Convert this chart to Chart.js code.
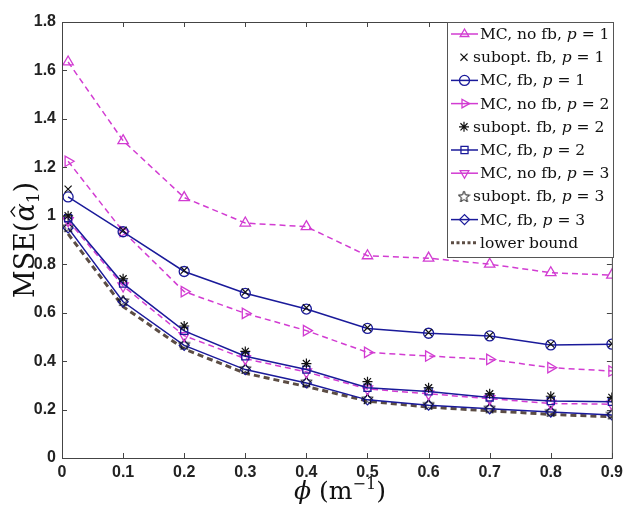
<!DOCTYPE html>
<html lang="en">
<head>
    <meta charset="UTF-8">
    <title>MSE vs phi</title>
    <script src="https://cdn.jsdelivr.net/npm/chart.js"></script>
    <style>
        body { margin: 0; background: #fff; }
        #wrap { width: 628px; height: 508px; }
    </style>
</head>
<body>
    <div id="wrap"><canvas id="mseChart" width="628" height="508"></canvas></div>

    <script>
        // attenuation values (x axis)
        const phi = [0.01, 0.1, 0.2, 0.3, 0.4, 0.5, 0.6, 0.7, 0.8, 0.9];

        // MSE per method
        const mcNoFb1  = [1.635, 1.31, 1.075, 0.97, 0.955, 0.835, 0.825, 0.80, 0.765, 0.755];
        const subopt1  = [1.11, 0.94, 0.775, 0.685, 0.62, 0.538, 0.518, 0.505, 0.47, 0.472];
        const mcFb1    = [1.078, 0.934, 0.77, 0.68, 0.615, 0.535, 0.515, 0.504, 0.467, 0.47];
        const mcNoFb2  = [1.225, 0.935, 0.687, 0.597, 0.526, 0.436, 0.421, 0.407, 0.373, 0.359];
        const subopt2  = [1.0, 0.74, 0.545, 0.44, 0.39, 0.315, 0.29, 0.265, 0.255, 0.25];
        const mcFb2    = [0.99, 0.72, 0.525, 0.42, 0.365, 0.29, 0.275, 0.25, 0.235, 0.232];
        const mcNoFb3  = [0.98, 0.71, 0.505, 0.41, 0.355, 0.285, 0.265, 0.245, 0.225, 0.222];
        const subopt3  = [0.955, 0.65, 0.47, 0.37, 0.315, 0.245, 0.222, 0.207, 0.193, 0.182];
        const mcFb3    = [0.95, 0.645, 0.465, 0.365, 0.31, 0.24, 0.218, 0.203, 0.19, 0.178];
        const lowerBnd = [0.925, 0.625, 0.45, 0.35, 0.295, 0.235, 0.21, 0.195, 0.18, 0.17];

        const MAGENTA = '#d23cd2';
        const BLUE = '#1a1a9a';
        const BLACK = '#111';
        const SERIF = '"DejaVu Serif", "Liberation Serif", serif';

        // five-pointed outline star used as a marker
        function makePentagram() {
            const c = document.createElement('canvas');
            c.width = 13; c.height = 13;
            const g = c.getContext('2d');
            g.strokeStyle = BLACK;
            g.lineWidth = 1;
            g.beginPath();
            for (let i = 0; i < 10; i++) {
                const r = i % 2 === 0 ? 6 : 2.6;
                const a = -Math.PI / 2 + i * Math.PI / 5;
                const px = 6.5 + r * Math.cos(a), py = 7 + r * Math.sin(a);
                if (i === 0) g.moveTo(px, py); else g.lineTo(px, py);
            }
            g.closePath();
            g.stroke();
            return c;
        }
        const pentagram = makePentagram();

        function pts(ys) {
            return phi.map((x, i) => ({ x: x, y: ys[i] }));
        }

        function mcDash(label, ys, style, rot) {
            return {
                label: label, data: pts(ys), borderColor: MAGENTA, borderWidth: 1.5,
                borderDash: [6, 4], pointStyle: style, rotation: rot, pointRadius: 6,
                pointBorderColor: MAGENTA, pointBackgroundColor: 'rgba(0,0,0,0)', pointBorderWidth: 1.3
            };
        }
        function mcSolid(label, ys, style) {
            return {
                label: label, data: pts(ys), borderColor: BLUE, borderWidth: 1.5,
                pointStyle: style, pointRadius: 5, pointBorderColor: BLUE,
                pointBackgroundColor: 'rgba(0,0,0,0)', pointBorderWidth: 1.3
            };
        }
        function subopt(label, ys, style) {
            return {
                label: label, data: pts(ys), showLine: false, borderColor: BLACK,
                pointStyle: style, pointRadius: 5, pointBorderColor: BLACK,
                pointBackgroundColor: 'rgba(0,0,0,0)', pointBorderWidth: 1.2
            };
        }

        const datasets = [
            mcDash('MC, no fb, |p| = 1', mcNoFb1, 'triangle', 0),
            subopt('subopt. fb, |p| = 1', subopt1, 'crossRot'),
            mcSolid('MC, fb, |p| = 1', mcFb1, 'circle'),
            mcDash('MC, no fb, |p| = 2', mcNoFb2, 'triangle', 90),
            subopt('subopt. fb, |p| = 2', subopt2, 'star'),
            mcSolid('MC, fb, |p| = 2', mcFb2, 'rect'),
            mcDash('MC, no fb, |p| = 3', mcNoFb3, 'triangle', 180),
            subopt('subopt. fb, |p| = 3', subopt3, pentagram),
            mcSolid('MC, fb, |p| = 3', mcFb3, 'rectRot'),
            {
                label: 'lower bound', data: pts(lowerBnd), borderColor: '#5c4d44',
                borderWidth: 3, borderDash: [6, 4], pointRadius: 0
            }
        ];

        function drawSegs(ctx, segs, x, y, centered) {
            let total = 0;
            segs.forEach(s => { ctx.font = s.f; total += ctx.measureText(s.t).width; });
            let cx = centered ? x - total / 2 : x;
            const starts = [];
            ctx.textAlign = 'left';
            segs.forEach(s => {
                ctx.font = s.f;
                starts.push(cx);
                ctx.fillText(s.t, cx, y + s.dy);
                cx += ctx.measureText(s.t).width;
            });
            return starts;
        }

        // box, inward ticks, axis titles and legend drawn on top
        const frame = {
            id: 'frame',
            afterDraw(chart) {
                const { ctx, chartArea: a, scales } = chart;
                ctx.save();
                ctx.strokeStyle = '#444';
                ctx.lineWidth = 1;
                ctx.strokeRect(a.left + 0.5, a.top + 0.5, a.right - a.left, a.bottom - a.top);

                ctx.beginPath();
                scales.x.ticks.forEach(t => {
                    const px = Math.round(scales.x.getPixelForValue(t.value)) + 0.5;
                    ctx.moveTo(px, a.bottom); ctx.lineTo(px, a.bottom - 5);
                    ctx.moveTo(px, a.top); ctx.lineTo(px, a.top + 5);
                });
                scales.y.ticks.forEach(t => {
                    const py = Math.round(scales.y.getPixelForValue(t.value)) + 0.5;
                    ctx.moveTo(a.left, py); ctx.lineTo(a.left + 5, py);
                    ctx.moveTo(a.right, py); ctx.lineTo(a.right - 5, py);
                });
                ctx.stroke();

                // x title: phi (m^-1)
                ctx.fillStyle = '#111';
                ctx.textBaseline = 'alphabetic';
                drawSegs(ctx, [
                    { t: '\u03d5', f: 'italic 25px ' + SERIF, dy: 0 },
                    { t: ' (m', f: '25px ' + SERIF, dy: 0 },
                    { t: '\u22121', f: '16px ' + SERIF, dy: -10 },
                    { t: ')', f: '25px ' + SERIF, dy: 0 }
                ], 340, 499, true);

                // y title: MSE(alpha hat 1)
                ctx.save();
                ctx.translate(34, 240);
                ctx.rotate(-Math.PI / 2);
                const st = drawSegs(ctx, [
                    { t: 'MSE(', f: '27px ' + SERIF, dy: 0 },
                    { t: '\u03b1', f: 'italic 27px ' + SERIF, dy: 0 },
                    { t: '1', f: '17px ' + SERIF, dy: 5 },
                    { t: ')', f: '27px ' + SERIF, dy: 0 }
                ], 0, 0, true);
                // hat over alpha
                const hx = st[1] + 10;
                ctx.strokeStyle = '#111';
                ctx.lineWidth = 1.4;
                ctx.beginPath();
                ctx.moveTo(hx - 5, -19); ctx.lineTo(hx, -23); ctx.lineTo(hx + 5, -19);
                ctx.stroke();
                ctx.restore();

                // legend
                const lx = 447, ly = 22, lw = 166, lh = 235, rowH = 23.2;
                ctx.fillStyle = '#fff';
                ctx.fillRect(lx, ly, lw, lh);
                ctx.strokeStyle = '#555';
                ctx.lineWidth = 1;
                ctx.strokeRect(lx + 0.5, ly + 0.5, lw, lh);

                chart.data.datasets.forEach((ds, i) => {
                    const cy = ly + 12 + i * rowH;
                    let tx = 480;
                    if (ds.showLine !== false) {
                        ctx.save();
                        ctx.strokeStyle = ds.borderColor;
                        ctx.lineWidth = ds.borderWidth;
                        ctx.setLineDash(ds.pointRadius === 0 ? [3, 2.5] : []);
                        ctx.beginPath();
                        ctx.moveTo(451, cy); ctx.lineTo(478, cy);
                        ctx.stroke();
                        ctx.restore();
                    } else {
                        tx = 473;
                    }
                    if (ds.pointRadius > 0) {
                        const mx = ds.showLine === false ? 464 : 464.5;
                        ctx.save();
                        ctx.strokeStyle = ds.pointBorderColor;
                        ctx.fillStyle = 'rgba(0,0,0,0)';
                        ctx.lineWidth = ds.pointBorderWidth;
                        Chart.helpers.drawPoint(ctx, {
                            pointStyle: ds.pointStyle, radius: 5, rotation: ds.rotation || 0,
                            borderWidth: ds.pointBorderWidth
                        }, mx, cy);
                        ctx.restore();
                    }
                    const segs = ds.label.split('|').map((p, k) => ({
                        t: p,
                        f: (k === 1 ? 'italic ' : '') + '15.5px ' + SERIF,
                        dy: 0
                    }));
                    ctx.fillStyle = '#111';
                    drawSegs(ctx, segs, tx, cy + 5, false);
                });
                ctx.restore();
            }
        };

        const tickFont = { family: '"Liberation Sans", Arial, sans-serif', size: 16, weight: 'bold' };

        new Chart(document.getElementById('mseChart').getContext('2d'), {
            type: 'line',
            data: { datasets: datasets },
            options: {
                responsive: false,
                animation: false,
                layout: { padding: { top: 22, right: 14, left: 0, bottom: 0 } },
                plugins: { legend: { display: false }, tooltip: { enabled: false } },
                elements: { line: { tension: 0 } },
                scales: {
                    x: {
                        type: 'linear', min: 0, max: 0.9,
                        grid: { display: false, drawTicks: false },
                        border: { display: false },
                        ticks: {
                            stepSize: 0.1, padding: 5, color: '#222', font: tickFont,
                            maxRotation: 0, autoSkip: false,
                            callback: v => String(Number(v.toFixed(1)))
                        },
                        afterFit: s => { s.height = 50; }
                    },
                    y: {
                        min: 0, max: 1.8,
                        grid: { display: false, drawTicks: false },
                        border: { display: false },
                        ticks: {
                            stepSize: 0.2, padding: 6, color: '#222', font: tickFont,
                            autoSkip: false,
                            callback: v => String(Number(v.toFixed(1)))
                        },
                        afterFit: s => { s.width = 62; }
                    }
                }
            },
            plugins: [frame]
        });
    </script>
</body>
</html>
